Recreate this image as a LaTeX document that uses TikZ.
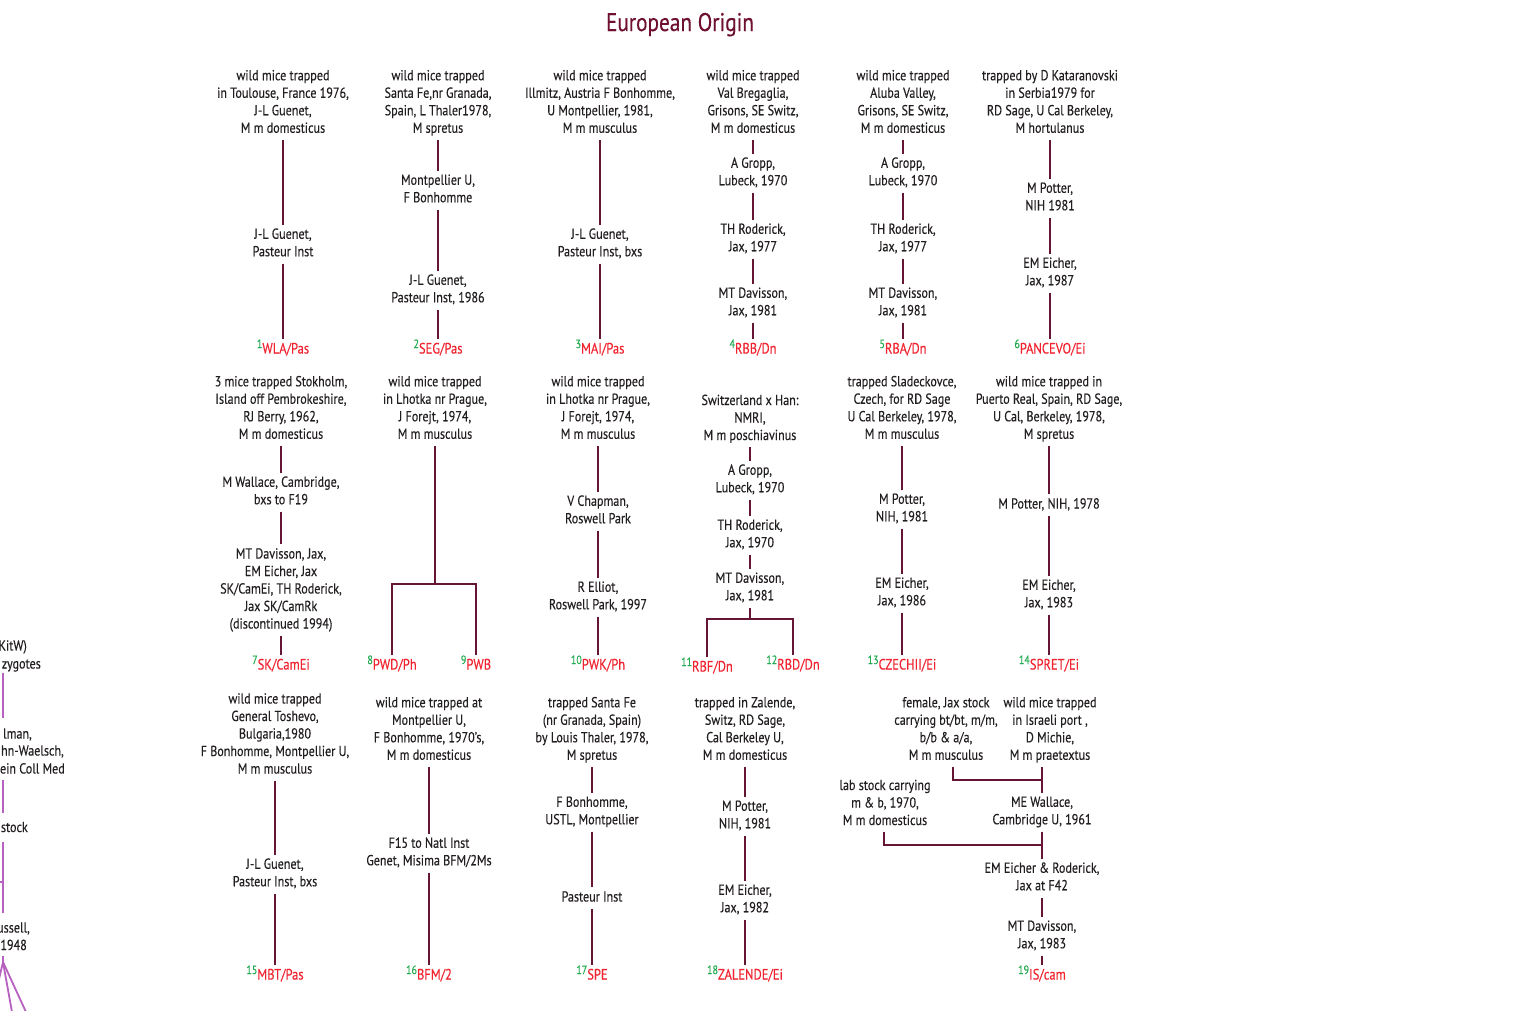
\documentclass[tikz,border=0pt]{standalone}
\usepackage{fontspec}
\setmainfont[FakeStretch=0.835,FakeBold=0.3]{PT Sans}
\definecolor{ink}{RGB}{35,31,32}
\definecolor{wine}{RGB}{100,22,52}
\definecolor{titlec}{RGB}{110,16,48}
\definecolor{redlab}{RGB}{240,36,48}
\definecolor{grnlab}{RGB}{34,170,80}
\definecolor{purp}{RGB}{182,96,192}
\newcommand\strainlab[2]{\strut\smash{\raisebox{5.5pt}{\textcolor{grnlab}{\fontsize{12}{13}\selectfont #1}}}\textcolor{redlab}{#2}}
\tikzset{
  txt/.style={align=center, inner xsep=0pt, inner ysep=2pt, outer sep=0pt, yshift=-2pt, text=ink, font=\fontsize{14.5}{17.5}\selectfont},
  lbl/.style={inner xsep=0pt, inner ysep=2pt, outer sep=0pt, font=\fontsize{15}{17.5}\selectfont},
  frag/.style={anchor=base east, inner sep=0pt, yshift=-2pt, text=ink, font=\fontsize{14.5}{17.5}\selectfont},
  ln/.style={draw=wine, line width=1.8pt},
  pl/.style={draw=purp, line width=1.8pt},
  titlest/.style={anchor=base, inner sep=0pt, text=titlec, font=\fontsize{25.5}{30}\selectfont}
}
\begin{document}
\begin{tikzpicture}[x=1pt,y=-1pt]
\useasboundingbox (0,0) rectangle (1531,1010);
\node[titlest] (title) at (680,31) {European Origin};

% ---------- row 1 ----------
\node[txt] (a1) at (283,101) {\strut wild mice trapped\\in Toulouse, France 1976,\\J-L Guenet,\\M m domesticus\strut};
\node[txt] (a2) at (283,242) {\strut J-L Guenet,\\Pasteur Inst\strut};
\node[lbl] (a3) at (283,350) {\strainlab{1}{WLA/Pas}};
\draw[ln] (a1.south) -- (a2.north);
\draw[ln] (a2.south) -- (a3.north);

\node[txt] (b1) at (438,101) {\strut wild mice trapped\\Santa Fe,nr Granada,\\Spain, L Thaler1978,\\M spretus\strut};
\node[txt] (b2) at (438,188) {\strut Montpellier U,\\F Bonhomme\strut};
\node[txt] (b3) at (438,288) {\strut J-L Guenet,\\Pasteur Inst, 1986\strut};
\node[lbl] (b4) at (438,350) {\strainlab{2}{SEG/Pas}};
\draw[ln] (b1.south) -- (b2.north);
\draw[ln] (b2.south) -- (b3.north);
\draw[ln] (b3.south) -- (b4.north);

\node[txt] (c1) at (600,101) {\strut wild mice trapped\\Illmitz, Austria F Bonhomme,\\U Montpellier, 1981,\\M m musculus\strut};
\node[txt] (c2) at (600,242) {\strut J-L Guenet,\\Pasteur Inst, bxs\strut};
\node[lbl] (c3) at (600,350) {\strainlab{3}{MAI/Pas}};
\draw[ln] (c1.south) -- (c2.north);
\draw[ln] (c2.south) -- (c3.north);

\node[txt] (d1) at (753,101) {\strut wild mice trapped\\Val Bregaglia,\\Grisons, SE Switz,\\M m domesticus\strut};
\node[txt] (d2) at (753,171) {\strut A Gropp,\\Lubeck, 1970\strut};
\node[txt] (d3) at (753,237) {\strut TH Roderick,\\Jax, 1977\strut};
\node[txt] (d4) at (753,301) {\strut MT Davisson,\\Jax, 1981\strut};
\node[lbl] (d5) at (753,350) {\strainlab{4}{RBB/Dn}};
\draw[ln] (d1.south) -- (d2.north);
\draw[ln] (d2.south) -- (d3.north);
\draw[ln] (d3.south) -- (d4.north);
\draw[ln] (d4.south) -- (d5.north);

\node[txt] (e1) at (903,101) {\strut wild mice trapped\\Aluba Valley,\\Grisons, SE Switz,\\M m domesticus\strut};
\node[txt] (e2) at (903,171) {\strut A Gropp,\\Lubeck, 1970\strut};
\node[txt] (e3) at (903,237) {\strut TH Roderick,\\Jax, 1977\strut};
\node[txt] (e4) at (903,301) {\strut MT Davisson,\\Jax, 1981\strut};
\node[lbl] (e5) at (903,350) {\strainlab{5}{RBA/Dn}};
\draw[ln] (e1.south) -- (e2.north);
\draw[ln] (e2.south) -- (e3.north);
\draw[ln] (e3.south) -- (e4.north);
\draw[ln] (e4.south) -- (e5.north);

\node[txt] (f1) at (1050,101) {\strut trapped by D Kataranovski\\in Serbia1979 for\\RD Sage, U Cal Berkeley,\\M hortulanus\strut};
\node[txt] (f2) at (1050,196) {\strut M Potter,\\NIH 1981\strut};
\node[txt] (f3) at (1050,271) {\strut EM Eicher,\\Jax, 1987\strut};
\node[lbl] (f4) at (1050,350) {\strainlab{6}{PANCEVO/Ei}};
\draw[ln] (f1.south) -- (f2.north);
\draw[ln] (f2.south) -- (f3.north);
\draw[ln] (f3.south) -- (f4.north);

% ---------- row 2 ----------
\node[txt] (g1) at (281,407) {\strut 3 mice trapped Stokholm,\\Island off Pembrokeshire,\\RJ Berry, 1962,\\M m domesticus\strut};
\node[txt] (g2) at (281,490) {\strut M Wallace, Cambridge,\\bxs to F19\strut};
\node[txt] (g3) at (281,588) {\strut MT Davisson, Jax,\\EM Eicher, Jax\\SK/CamEi, TH Roderick,\\Jax SK/CamRk\\(discontinued 1994)\strut};
\node[lbl] (g4) at (281,666) {\strainlab{7}{SK/CamEi}};
\draw[ln] (g1.south) -- (g2.north);
\draw[ln] (g2.south) -- (g3.north);
\draw[ln] (g3.south) -- (g4.north);

\node[txt] (h1) at (435,407) {\strut wild mice trapped\\in Lhotka nr Prague,\\J Forejt, 1974,\\M m musculus\strut};
\coordinate (hj) at (435,584);
\node[lbl] (h8) at (392,666) {\strainlab{8}{PWD/Ph}};
\node[lbl] (h9) at (476,666) {\strainlab{9}{PWB}};
\draw[ln] (h1.south) -- (hj);
\draw[ln] (h8.north) |- (hj) -| (h9.north);

\node[txt] (i1) at (598,407) {\strut wild mice trapped\\in Lhotka nr Prague,\\J Forejt, 1974,\\M m musculus\strut};
\node[txt] (i2) at (598,509) {\strut V Chapman,\\Roswell Park\strut};
\node[txt] (i3) at (598,595) {\strut R Elliot,\\Roswell Park, 1997\strut};
\node[lbl] (i4) at (598,666) {\strainlab{10}{PWK/Ph}};
\draw[ln] (i1.south) -- (i2.north);
\draw[ln] (i2.south) -- (i3.north);
\draw[ln] (i3.south) -- (i4.north);

\node[txt] (j1) at (750,417) {\strut Switzerland x Han:\\NMRI,\\M m poschiavinus\strut};
\node[txt] (j2) at (750,478) {\strut A Gropp,\\Lubeck, 1970\strut};
\node[txt] (j3) at (750,533) {\strut TH Roderick,\\Jax, 1970\strut};
\node[txt] (j4) at (750,586) {\strut MT Davisson,\\Jax, 1981\strut};
\coordinate (jj) at (750,619);
\node[lbl] (j11) at (707,668) {\strainlab{11}{RBF/Dn}};
\node[lbl] (j12) at (793,666) {\strainlab{12}{RBD/Dn}};
\draw[ln] (j1.south) -- (j2.north);
\draw[ln] (j2.south) -- (j3.north);
\draw[ln] (j3.south) -- (j4.north);
\draw[ln] (j4.south) -- (jj);
\draw[ln] (j11.north) |- (jj) -| (j12.north);

\node[txt] (k1) at (902,407) {\strut trapped Sladeckovce,\\Czech, for RD Sage\\U Cal Berkeley, 1978,\\M m musculus\strut};
\node[txt] (k2) at (902,507) {\strut M Potter,\\NIH, 1981\strut};
\node[txt] (k3) at (902,591) {\strut EM Eicher,\\Jax, 1986\strut};
\node[lbl] (k4) at (902,666) {\strainlab{13}{CZECHII/Ei}};
\draw[ln] (k1.south) -- (k2.north);
\draw[ln] (k2.south) -- (k3.north);
\draw[ln] (k3.south) -- (k4.north);

\node[txt] (l1) at (1049,407) {\strut wild mice trapped in\\Puerto Real, Spain, RD Sage,\\U Cal, Berkeley, 1978,\\M spretus\strut};
\node[txt] (l2) at (1049,503) {\strut M Potter, NIH, 1978\strut};
\node[txt] (l3) at (1049,593) {\strut EM Eicher,\\Jax, 1983\strut};
\node[lbl] (l4) at (1049,666) {\strainlab{14}{SPRET/Ei}};
\draw[ln] (l1.south) -- (l2.north);
\draw[ln] (l2.south) -- (l3.north);
\draw[ln] (l3.south) -- (l4.north);

% ---------- row 3 ----------
\node[txt] (m1) at (275,733) {\strut wild mice trapped\\General Toshevo,\\Bulgaria,1980\\F Bonhomme, Montpellier U,\\M m musculus\strut};
\node[txt] (m2) at (275,872) {\strut J-L Guenet,\\Pasteur Inst, bxs\strut};
\node[lbl] (m3) at (275,976) {\strainlab{15}{MBT/Pas}};
\draw[ln] (m1.south) -- (m2.north);
\draw[ln] (m2.south) -- (m3.north);

\node[txt] (n1) at (429,728) {\strut wild mice trapped at\\Montpellier U,\\F Bonhomme, 1970’s,\\M m domesticus\strut};
\node[txt] (n2) at (429,851) {\strut F15 to Natl Inst\\Genet, Misima BFM/2Ms\strut};
\node[lbl] (n3) at (429,976) {\strainlab{16}{BFM/2}};
\draw[ln] (n1.south) -- (n2.north);
\draw[ln] (n2.south) -- (n3.north);

\node[txt] (o1) at (592,728) {\strut trapped Santa Fe\\(nr Granada, Spain)\\by Louis Thaler, 1978,\\M spretus\strut};
\node[txt] (o2) at (592,810) {\strut F Bonhomme,\\USTL, Montpellier\strut};
\node[txt] (o3) at (592,896) {\strut Pasteur Inst\strut};
\node[lbl] (o4) at (592,976) {\strainlab{17}{SPE}};
\draw[ln] (o1.south) -- (o2.north);
\draw[ln] (o2.south) -- (o3.north);
\draw[ln] (o3.south) -- (o4.north);

\node[txt] (p1) at (745,728) {\strut trapped in Zalende,\\Switz, RD Sage,\\Cal Berkeley U,\\M m domesticus\strut};
\node[txt] (p2) at (745,814) {\strut M Potter,\\NIH, 1981\strut};
\node[txt] (p3) at (745,898) {\strut EM Eicher,\\Jax, 1982\strut};
\node[lbl] (p4) at (745,976) {\strainlab{18}{ZALENDE/Ei}};
\draw[ln] (p1.south) -- (p2.north);
\draw[ln] (p2.south) -- (p3.north);
\draw[ln] (p3.south) -- (p4.north);

\node[txt] (q1) at (946,728) {\strut female, Jax stock\\carrying bt/bt, m/m,\\b/b \& a/a,\\M m musculus\strut};
\node[txt] (q2) at (1050,728) {\strut wild mice trapped\\in Israeli port ,\\D Michie,\\M m praetextus\strut};
\node[txt] (q3) at (1042,810) {\strut ME Wallace,\\Cambridge U, 1961\strut};
\node[txt] (q4) at (885,802) {\strut lab stock carrying\\m \& b, 1970,\\M m domesticus\strut};
\node[txt] (q5) at (1042,876) {\strut EM Eicher \& Roderick,\\Jax at F42\strut};
\node[txt] (q6) at (1042,934) {\strut MT Davisson,\\Jax, 1983\strut};
\node[lbl] (q7) at (1042,976) {\strainlab{19}{IS/cam}};
\coordinate (qa) at (1043,780);
\coordinate (qb) at (1043,845);
\draw[ln] ([xshift=7pt]q1.south) |- (qa);
\draw[ln] (q2.south -| q3.north) -- (q3.north);
\draw[ln] ([xshift=-1pt]q4.south) |- (qb);
\draw[ln] (q3.south) -- (q5.north);
\draw[ln] (q5.south) -- (q6.north);
\draw[ln] (q6.south) -- (q7.north);

% ---------- cut-off tree at the left edge ----------
\node[frag] (z1) at (27,648.5) {KitW)};
\node[frag] (z2) at (41,666.5) {zygotes};
\node[frag] (z3) at (32,736.5) {lman,};
\node[frag] (z4) at (64,753.5) {hn-Waelsch,};
\node[frag] (z5) at (65,771.5) {ein Coll Med};
\node[frag] (z6) at (28,830) {stock};
\node[frag] (z7) at (30,930.5) {ussell,};
\node[frag] (z8) at (27,948) {1948};
\coordinate (y1a) at (3,673); \coordinate (y1b) at (3,718);
\coordinate (y2a) at (3,780); \coordinate (y2b) at (3,813);
\coordinate (y3a) at (3,842); \coordinate (y3b) at (3,913);
\coordinate (y3t) at (0,882); \coordinate (y3u) at (3,882);
\coordinate (y4a) at (3,956); \coordinate (y4b) at (3,962);
\coordinate (y4c) at (-4,992); \coordinate (y4d) at (12,1012); \coordinate (y4e) at (26,1012);
\draw[pl] (y1a) -- (y1b);
\draw[pl] (y2a) -- (y2b);
\draw[pl] (y3a) -- (y3b);
\draw[pl] (y3t) -- (y3u);
\draw[pl] (y4a) -- (y4b);
\draw[pl] (y4b) -- (y4c);
\draw[pl] (y4b) -- (y4d);
\draw[pl] (y4b) -- (y4e);
\end{tikzpicture}
\end{document}
